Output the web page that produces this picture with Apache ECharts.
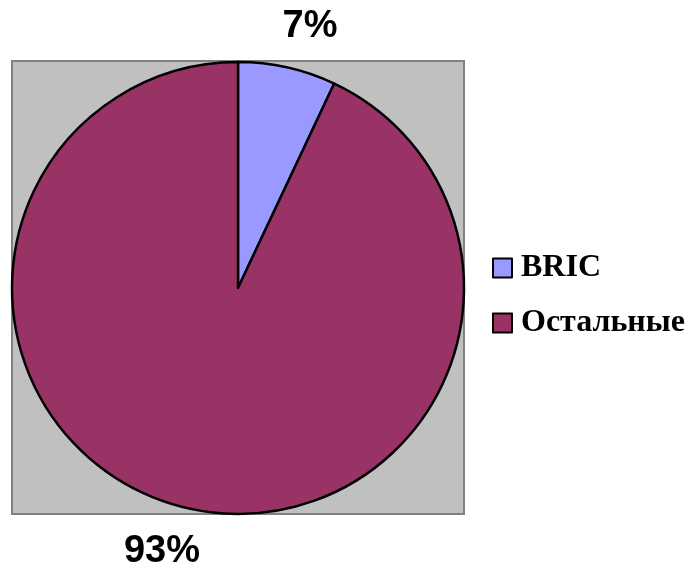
<!DOCTYPE html>
<html>
<head>
<meta charset="utf-8">
<script src="https://cdn.jsdelivr.net/npm/echarts@6/dist/echarts.min.js"></script>
<style>
  html, body { margin: 0; padding: 0; background: #ffffff; }
  #chart { width: 690px; height: 572px; }
</style>
</head>
<body>
<div id="chart"></div>
<script>
// Share of world total: BRIC countries vs. the rest
const categories = ['BRIC', 'Остальные'];
const shares = [7, 93];
const sliceColors = ['#9999FF', '#993366'];

// Placement of the percentage labels (outside the pie, above and below)
const labelSpots = [
  { x: 310, y: 27 },
  { x: 162, y: 552 }
];

const chart = echarts.init(document.getElementById('chart'), null, { renderer: 'canvas' });

const pieData = categories.map((name, i) => ({
  name: name,
  value: shares[i],
  itemStyle: { color: sliceColors[i] }
}));

chart.setOption({
  backgroundColor: '#ffffff',
  animation: false,
  graphic: [
    {
      type: 'rect',
      z: -1,
      shape: { x: 12, y: 61, width: 452, height: 453 },
      style: { fill: '#C0C0C0', stroke: '#808080', lineWidth: 2 }
    }
  ],
  legend: {
    orient: 'vertical',
    left: 487,
    top: 247,
    padding: 5,
    itemWidth: 19,
    itemHeight: 19,
    itemGap: 23,
    icon: 'rect',
    selectedMode: false,
    itemStyle: { borderColor: '#000000', borderWidth: 2 },
    textStyle: {
      fontFamily: '"Liberation Serif", "Times New Roman", serif',
      fontWeight: 'bold',
      fontSize: 32,
      lineHeight: 32,
      color: '#000000',
      padding: [0, 0, 0, 4]
    },
    data: categories
  },
  series: [
    {
      type: 'pie',
      center: [238, 288],
      radius: 226,
      startAngle: 90,
      clockwise: true,
      avoidLabelOverlap: false,
      percentPrecision: 0,
      itemStyle: { borderColor: '#000000', borderWidth: 2.5 },
      emphasis: { disabled: true },
      label: {
        show: true,
        position: 'outside',
        formatter: '{d}%',
        fontFamily: '"Liberation Sans", Arial, sans-serif',
        fontWeight: 'bold',
        fontSize: 38,
        color: '#000000'
      },
      labelLine: { show: false },
      labelLayout: function (params) {
        const spot = labelSpots[params.dataIndex];
        return { x: spot.x, y: spot.y, align: 'center', verticalAlign: 'middle' };
      },
      data: pieData
    }
  ]
});
</script>
</body>
</html>
